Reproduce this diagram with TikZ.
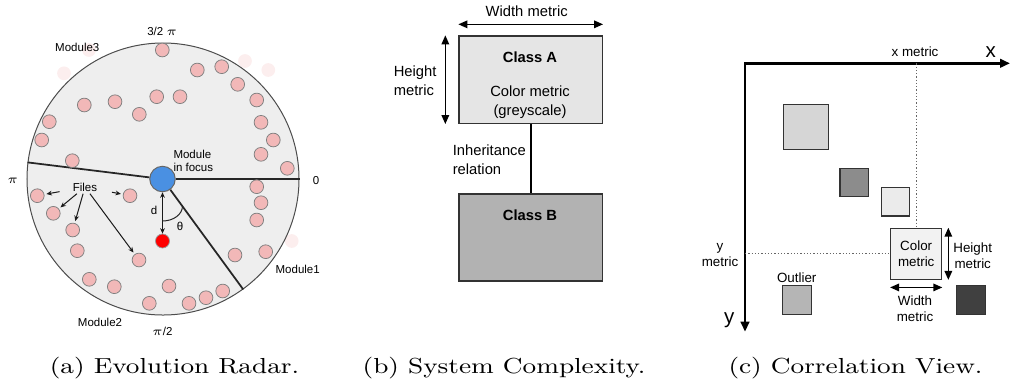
\documentclass[tikz,border=0pt]{standalone}
\usepackage{fontspec}
\setsansfont{Liberation Sans}
\usepackage{graphicx}
\usepackage{tikz}
\usetikzlibrary{positioning,arrows.meta}
\definecolor{RadarGrey}{HTML}{EEEEEE}
\definecolor{FilePink}{HTML}{F2B8B8}
\definecolor{GhostPink}{HTML}{FCEEEE}
\definecolor{FocusBlue}{HTML}{4A90E2}
\definecolor{TargetRed}{HTML}{FF0000}

\newcommand{\subcap}[1]{\fontsize{8.7}{10}\selectfont\scalebox{1.22}[1]{#1}}

\begin{document}
\begin{tikzpicture}[
      x=0.4pt, y=0.4pt,
      every node/.style={align=center, inner sep=0pt},
      lblA/.style={font=\sffamily\fontsize{4.6}{5.5}\selectfont},
      lblB/.style={font=\sffamily\fontsize{5.9}{7.6}\selectfont},
      titleB/.style={font=\sffamily\bfseries\fontsize{5.9}{7.6}\selectfont},
      lblC/.style={font=\sffamily\fontsize{5.35}{6.4}\selectfont},
      axislbl/.style={font=\sffamily\fontsize{8.2}{9}\selectfont},
      radar/.style={circle, draw=black!70, fill=RadarGrey, line width=0.4pt, minimum size=108.8pt},
      file/.style={circle, draw=black!50, fill=FilePink, line width=0.3pt, minimum size=5.5pt},
      ghost/.style={circle, fill=GhostPink, minimum size=5.5pt},
      focus/.style={circle, draw=black!60, fill=FocusBlue, line width=0.4pt, minimum size=10.2pt},
      target/.style={circle, draw=black!40, fill=TargetRed, line width=0.3pt, minimum size=5.6pt},
      spoke/.style={black!85, line width=0.7pt},
      farrow/.style={black!90, line width=0.4pt, -{Stealth[length=2.2pt,width=1.9pt]}, shorten >=0.8pt},
      darrow/.style={black!90, line width=0.4pt, {Stealth[length=2.2pt,width=1.9pt]}-{Stealth[length=2.2pt,width=1.9pt]}},
      cls/.style={draw=black!80, line width=0.6pt, minimum width=57.3pt, minimum height=34.9pt},
      marrow/.style={line width=0.6pt, {Triangle[length=3.6pt,width=3pt]}-{Triangle[length=3.6pt,width=3pt]}},
      cell/.style={draw=black!80, line width=0.5pt},
      guide/.style={black!60, line width=0.4pt, dash pattern=on 0.5pt off 0.8pt},
      axis/.style={line width=1pt, {Triangle[length=4pt,width=3.4pt]}-{Triangle[length=4pt,width=3.4pt]}}
    ]
      \useasboundingbox (0,0) rectangle (1011,383);

      % --- evolution radar ---
      \foreach \x/\y in {64/309.7, 89/333, 245/322, 268.3/313, 291.7/142}
        \node[ghost] at (\x,\y) {};
      \node[radar] (radar) at (163,204) {};
      \node[focus] (focus) at (162.5,204) {};
      \draw[spoke] (focus) -- (radar.0);
      \draw[spoke] (focus) -- (radar.173.8);
      \draw[spoke] (focus) -- (radar.-54.3);
      \foreach \x/\y [count=\i] in {37.3/187.3, 53.3/169.7, 72.7/153, 139/123, 130/187.3,
          162.3/333, 197.3/313, 221.7/316.3, 237.7/298.7, 256.7/283, 261/260.7,
          273.3/243, 261/228.7, 287.3/214.7, 156.7/286.3, 180/286.3, 115/281.3,
          84.3/278, 139.3/268.7, 49.3/261.3, 41.7/243, 72.3/222.3,
          256.7/196.3, 261/180.3, 256.7/163, 235/128, 265.7/131.3,
          77.3/132.3, 89.3/103.7, 114.3/96.3, 169/97, 149.3/79.7, 189/79.7,
          206/85.3, 222.7/92}
        \node[file] (f\i) at (\x,\y) {};
      \node[target] (target) at (162.5,142) {};
      \draw[darrow] (focus) -- (target);
      \draw[black!85, line width=0.4pt] (162.5,162) arc[start angle=270, end angle=360, x radius=20, y radius=15];
      \node[lblA] (dlbl) at (154,173) {d};
      \node[lblA] (theta) at (180,156.3) {θ};
      \node[lblA, align=left, anchor=west] (focuslbl) at (173,222) {Module\\in focus};
      \node[lblA, outer sep=1pt] (files) at (85,196) {Files};
      \draw[farrow, shorten <=4.4pt] (files) -- (f1);
      \draw[farrow] (files) -- (f2);
      \draw[farrow] (files) -- (f3);
      \draw[farrow] (files) -- (f4);
      \draw[farrow, shorten <=5pt] (files) -- (f5);
      \node[lblA] (top) at (162.3,352) {3/2 $\pi$};
      \node[lblA] (bottom) at (162.3,52) {$\pi$/2};
      \node[lblA] (left) at (12.7,202.3) {$\pi$};
      \node[lblA] (right) at (316,202.3) {0};
      \node[lblA] (mod3) at (77.3,335.3) {Module3};
      \node[lblA] (mod1) at (297.7,113.7) {Module1};
      \node[lblA] (mod2) at (100,60.3) {Module2};
      \node (capa) at (174.5,15) {\subcap{(a) Evolution Radar.}};

      % --- system complexity ---
      \node[cls, fill=black!10] (classA) at (530.7,303.3) {};
      \node[cls, fill=black!30, below=27.6pt of classA] (classB) {};
      \draw[line width=0.8pt] (classA) -- (classB);
      \draw[marrow] ([yshift=4.4pt]classA.north west) -- ([yshift=4.4pt]classA.north east);
      \draw[marrow] ([xshift=-5.2pt]classA.north west) -- ([xshift=-5.2pt]classA.south west);
      \node[titleB] (nameA) at (530,325.7) {Class A};
      \node[lblB] (colorA) at (530,280.7) {Color metric\\(greyscale)};
      \node[titleB] (nameB) at (530,168) {Class B};
      \node[lblB] (widthB) at (526.7,372) {Width metric};
      \node[lblB, align=left, anchor=west] (heightB) at (393.3,302) {Height\\metric};
      \node[lblB, align=left, anchor=west] (inherit) at (452.3,223) {Inheritance\\relation};
      \node (capb) at (504,15) {\subcap{(b) System Complexity.}};

      % --- correlation view ---
      \coordinate (origin) at (745,319.7);
      \coordinate (xend) at (1010,319.7);
      \coordinate (yend) at (745,51.3);
      \draw[axis] (xend) -- (origin) -- (yend);
      \node[axislbl] (xlbl) at (990.7,331.3) {x};
      \node[axislbl] (ylbl) at (729.3,63) {y};
      \node[lblC] (xmetric) at (915,331.3) {x metric};
      \node[lblC] (ymetric) at (720,128) {y\\metric};
      \node[cell, fill=black!16, minimum size=18pt] (sq1) at (805.8,256.3) {};
      \node[cell, fill=black!45, minimum size=11.3pt] (sq2) at (854.2,200.5) {};
      \node[cell, fill=black!8, minimum size=11.4pt] (sq3) at (895.5,181.2) {};
      \node[cell, fill=black!5, minimum size=20.4pt, lblC] (colbox) at (916.2,129.2) {Color\\metric};
      \node[cell, fill=black!29, minimum size=11.6pt] (outlier) at (797.2,82.8) {};
      \node[cell, fill=black!75, minimum size=11.6pt] (dark) at (971.2,82.8) {};
      \draw[guide] (colbox.north |- origin) -- (colbox.north);
      \draw[guide] (colbox.west -| origin) -- (colbox.west);
      \draw[marrow] ([xshift=2.4pt]colbox.north east) -- ([xshift=2.4pt]colbox.south east);
      \draw[marrow] ([yshift=-3pt]colbox.south west) -- ([yshift=-3pt]colbox.south east);
      \node[lblC] (outlbl) at (796.7,105.7) {Outlier};
      \node[lblC] (heightC) at (972.7,127.3) {Height\\metric};
      \node[lblC] (widthC) at (915,74.7) {Width\\metric};
      \node (capc) at (855.5,15) {\subcap{(c) Correlation View.}};
    \end{tikzpicture}
\end{document}
